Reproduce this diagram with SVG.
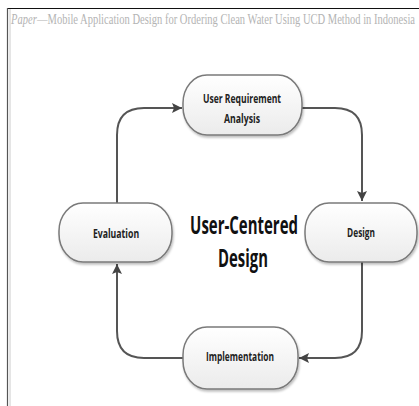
<svg xmlns="http://www.w3.org/2000/svg" width="419" height="406" viewBox="0 0 419 406">
<style>
.node rect{fill:url(#g);stroke:#7a7a7a;stroke-width:1.5;filter:url(#sh)}
.node text{font-family:"Open Sans","Liberation Sans",sans-serif;font-weight:bold;font-size:12.5px;fill:#222;text-anchor:middle}
.conn path{fill:none;stroke:#555;stroke-width:2;marker-end:url(#ar)}
.title{font-family:"Liberation Serif",serif;font-size:14px;fill:#b4b4b4}
.center{font-family:"Open Sans","Liberation Sans",sans-serif;font-weight:bold;font-size:25px;fill:#111;text-anchor:middle}
</style>
<defs>
<linearGradient id="g" x1="0" y1="0" x2="0" y2="1">
<stop offset="0" stop-color="#ffffff"/>
<stop offset="1" stop-color="#ebebeb"/>
</linearGradient>
<filter id="sh" x="-10%" y="-10%" width="125%" height="130%">
<feDropShadow dx="1" dy="2" stdDeviation="1.2" flood-color="#000" flood-opacity="0.25"/>
</filter>
<marker id="ar" viewBox="0 0 10 10" refX="10" refY="5" markerWidth="5" markerHeight="5" orient="auto" markerUnits="strokeWidth">
<path d="M0,0 L10,5 L0,10 L2,5 z" fill="#444"/>
</marker>
</defs>
<rect width="419" height="406" fill="#fff"/>
<line x1="7" y1="8.5" x2="419" y2="8.5" stroke="#111" stroke-width="1.2"/>
<line x1="7.5" y1="8" x2="7.5" y2="406" stroke="#555" stroke-width="1.2"/>
<line x1="10" y1="9" x2="10" y2="406" stroke="#ccc" stroke-width="1"/>
<text class="title" transform="translate(11,24) scale(0.78,1)" font-style="italic" textLength="33" lengthAdjust="spacingAndGlyphs">Paper</text>
<text class="title" transform="translate(37,24) scale(0.7,1)" textLength="540" lengthAdjust="spacingAndGlyphs">—Mobile Application Design for Ordering Clean Water Using UCD Method in Indonesia</text>
<g class="conn" id="connectors">
<path d="M117,203 V135 Q117,108 144,108 H182"/>
<path d="M302,108 H335 Q362,108 362,135 V201"/>
<path d="M362,262 V331 Q362,358 335,358 H299"/>
<path d="M183,358 H144 Q117,358 117,331 V264"/>
</g>
<g class="node" id="n-req">
<rect x="183" y="75" width="119" height="60" rx="24" ry="28"/>
<text transform="translate(242,103) scale(0.68,1)" textLength="115" lengthAdjust="spacingAndGlyphs">User Requirement</text>
<text transform="translate(242,123) scale(0.68,1)" textLength="53" lengthAdjust="spacingAndGlyphs">Analysis</text>
</g>
<g class="node" id="n-design">
<rect x="305" y="203" width="112" height="59" rx="24" ry="28"/>
<text transform="translate(361,237) scale(0.68,1)" textLength="41" lengthAdjust="spacingAndGlyphs">Design</text>
</g>
<g class="node" id="n-impl">
<rect x="183" y="327" width="115" height="62" rx="24" ry="28"/>
<text transform="translate(240,361) scale(0.68,1)" textLength="100" lengthAdjust="spacingAndGlyphs">Implementation</text>
</g>
<g class="node" id="n-eval">
<rect x="59" y="203" width="113" height="59" rx="24" ry="28"/>
<text transform="translate(116,238) scale(0.68,1)" textLength="68" lengthAdjust="spacingAndGlyphs">Evaluation</text>
</g>
<g id="center">
<text class="center" transform="translate(244,234) scale(0.65,1)" textLength="166" lengthAdjust="spacingAndGlyphs">User-Centered</text>
<text class="center" transform="translate(243,267) scale(0.63,1)" textLength="79" lengthAdjust="spacingAndGlyphs">Design</text>
</g>
</svg>
